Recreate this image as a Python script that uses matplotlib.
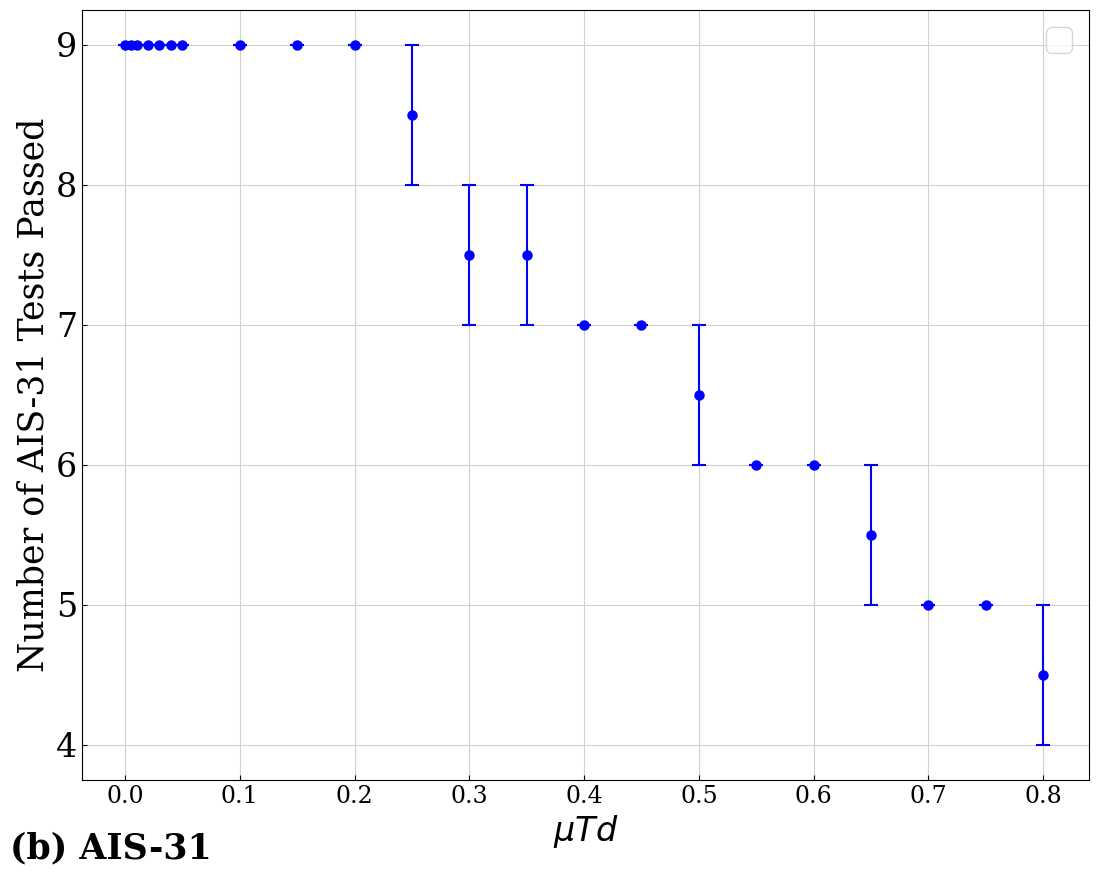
import numpy as np
import matplotlib
matplotlib.use("Agg")
from matplotlib import pyplot as plt

plt.rcParams["font.family"] = "DejaVu Serif"

# data
mu_td = [0.0, 0.005, 0.01, 0.02, 0.03, 0.04, 0.05, 0.1, 0.15, 0.2, 0.25,
         0.3, 0.35, 0.4, 0.45, 0.5, 0.55, 0.6, 0.65, 0.7, 0.75, 0.8]
passed_mean = [9, 9, 9, 9, 9, 9, 9, 9, 9, 9, 8.5,
               7.5, 7.5, 7, 7, 6.5, 6, 6, 5.5, 5, 5, 4.5]
passed_err = [0, 0, 0, 0, 0, 0, 0, 0, 0, 0, 0.5,
              0.5, 0.5, 0, 0, 0.5, 0, 0, 0.5, 0, 0, 0.5]

fig = plt.figure(figsize=(10.98, 8.74), dpi=100)
ax = fig.add_axes([0.0747, 0.1076, 0.9171, 0.881])

ax.errorbar(mu_td, passed_mean, yerr=passed_err, fmt="o", color="blue",
            ecolor="blue", markersize=6.5, elinewidth=1.5, capsize=5, capthick=1.5)

ax.grid(True, color="#d0d0d0", linewidth=0.8)
ax.set_axisbelow(True)
ax.tick_params(direction="in")
ax.tick_params(axis="y", labelsize=24)
ax.tick_params(axis="x", labelsize=17)
ax.set_yticks([4, 5, 6, 7, 8, 9])
ax.set_xticks(np.arange(0, 0.81, 0.1))
ax.set_xlim(-0.0375, 0.84)

ax.set_xlabel(r"$\mu Td$", fontsize=24)
ax.set_ylabel("Number of AIS-31 Tests Passed", fontsize=25)
ax.legend(handles=[], loc="upper right", fontsize=24)

fig.text(0.009, 0.018, "(b) AIS-31", fontsize=25, fontweight="bold")

fig.savefig("out.png", dpi=100)
